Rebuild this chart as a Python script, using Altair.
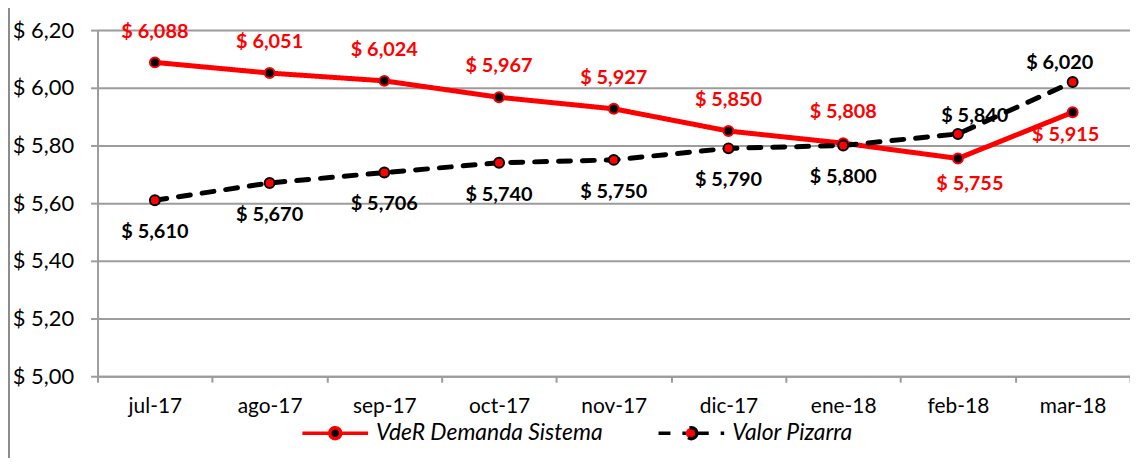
import altair as alt
import pandas as pd

meses = ["jul-17", "ago-17", "sep-17", "oct-17", "nov-17", "dic-17", "ene-18", "feb-18", "mar-18"]
vder = [6.088, 6.051, 6.024, 5.967, 5.927, 5.850, 5.808, 5.755, 5.915]
pizarra = [5.610, 5.670, 5.706, 5.740, 5.750, 5.790, 5.800, 5.840, 6.020]
series = ["VdeR Demanda Sistema", "Valor Pizarra"]
y_ticks = [5.0, 5.2, 5.4, 5.6, 5.8, 6.0, 6.2]

df = pd.DataFrame({
    "mes": meses * 2,
    "valor": vder + pizarra,
    "serie": [series[0]] * len(meses) + [series[1]] * len(meses),
})

FONT = "Lato"
GRID = "#9c9c9c"

# custom legend symbol: line segments with a circle marker in the middle
r = 0.55
k = r * 0.5523
circle = (f"M{r},0 C{r},{k} {k},{r} 0,{r} C{-k},{r} {-r},{k} {-r},0 "
          f"C{-r},{-k} {-k},{-r} 0,{-r} C{k},{-r} {r},{-k} {r},0 Z")
sym_path = f"M-3.3,0 L{-r},0 M{r},0 L3.3,0 " + circle

legend = alt.Legend(
    title=None, orient="none", legendX=227, legendY=393,
    direction="horizontal", columns=2, symbolType=sym_path, symbolSize=400,
    symbolStrokeWidth=3.5, labelFont=FONT, labelFontSize=23, labelFontStyle="italic",
    labelColor="#000000", labelOffset=29, columnPadding=48, padding=0, labelLimit=0,
)

x_enc = alt.X(
    "mes:N", sort=meses,
    scale=alt.Scale(type="band", paddingInner=0, paddingOuter=0),
    axis=alt.Axis(title=None, labelAngle=0, tickBand="extent", domainColor=GRID,
                  domainWidth=2, tickColor=GRID, tickWidth=2, tickSize=6,
                  labelFont=FONT, labelFontSize=21, labelColor="#000000",
                  labelPadding=13, grid=False),
)
y_enc = alt.Y(
    "valor:Q",
    scale=alt.Scale(domain=[5.0, 6.2], nice=False, zero=False),
    axis=alt.Axis(title=None, values=y_ticks,
                  labelExpr="'$ ' + replace(format(datum.value, '.2f'), '.', ',')",
                  grid=True, gridColor=GRID, gridWidth=2, domainColor=GRID, domainWidth=2,
                  tickColor=GRID, tickWidth=2, tickSize=7, labelFont=FONT, labelFontSize=22,
                  labelColor="#000000", labelPadding=17),
)

stroke_scale = alt.Scale(domain=series, range=["#ff0000", "#000000"])
fill_scale = alt.Scale(domain=series, range=["#000000", "#ff0000"])
dash_scale = alt.Scale(domain=series, range=[[1, 0], [12, 12]])

base = alt.Chart(df).encode(x=x_enc, y=y_enc)

frame = alt.Chart(pd.DataFrame({"a": [0]})).mark_rect(
    fill="transparent", stroke="#8c8c8c", strokeWidth=2
).encode(x=alt.value(-89), x2=alt.value(1300), y=alt.value(-24), y2=alt.value(700))

lines = base.mark_line(strokeWidth=5, strokeCap="round", strokeJoin="round").encode(
    stroke=alt.Stroke("serie:N", scale=stroke_scale, legend=legend),
    strokeDash=alt.StrokeDash("serie:N", scale=dash_scale, legend=legend),
)
points = base.mark_circle(size=100, strokeWidth=2, opacity=1).encode(
    fill=alt.Fill("serie:N", scale=fill_scale, legend=legend),
    stroke=alt.Stroke("serie:N", scale=stroke_scale, legend=legend),
)

lbl = "'$ ' + replace(format(datum.valor, '.3f'), '.', ',')"
tb = base.transform_calculate(lbl=lbl)


def txt(flt, color, dy, dx=0):
    return tb.transform_filter(flt).mark_text(
        font=FONT, fontSize=20, fontWeight="bold", color=color, dy=dy, dx=dx
    ).encode(text="lbl:N")


s0, s1 = series
special = "(datum.mes == 'feb-18' || datum.mes == 'mar-18')"
labels = [
    txt(f"datum.serie == '{s0}' && !{special}", "#ff0000", -31),
    txt(f"datum.serie == '{s0}' && datum.mes == 'feb-18'", "#ff0000", 26, 12),
    txt(f"datum.serie == '{s0}' && datum.mes == 'mar-18'", "#ff0000", 23, -7),
    txt(f"datum.serie == '{s1}' && !{special}", "#000000", 32),
    txt(f"datum.serie == '{s1}' && datum.mes == 'feb-18'", "#000000", -18, 17),
    txt(f"datum.serie == '{s1}' && datum.mes == 'mar-18'", "#000000", -19, -13),
]

chart = alt.layer(frame, *labels, lines, points).properties(
    width=1038, height=348,
    autosize=alt.AutoSizeParams(type="none"),
    padding={"left": 90, "top": 21, "right": 0, "bottom": 81},
).configure_view(stroke=None).configure(background="#ffffff")

chart.save("out.html", embed_options={"renderer": "svg", "actions": False})
